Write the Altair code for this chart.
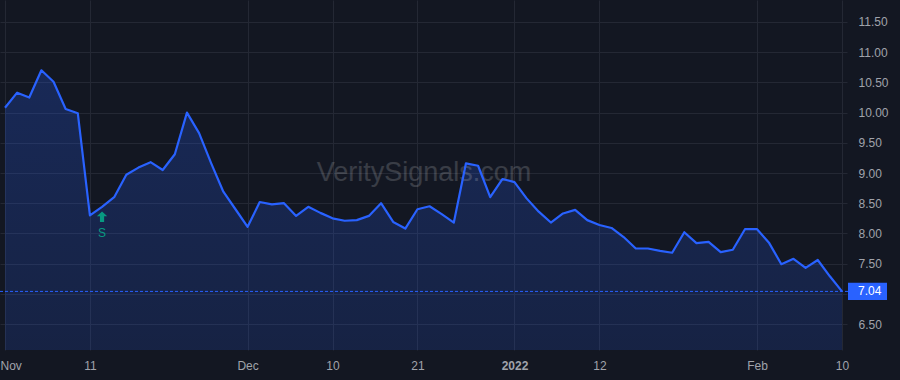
import altair as alt
import pandas as pd

# ---- data ----
prices = [10.08, 10.33, 10.25, 10.70, 10.51, 10.06, 9.99, 8.30, 8.44, 8.60,
          8.97, 9.09, 9.18, 9.05, 9.31, 10.00, 9.66, 9.16, 8.69, 8.40,
          8.11, 8.52, 8.48, 8.50, 8.29, 8.44, 8.34, 8.25, 8.21, 8.22,
          8.29, 8.50, 8.19, 8.08, 8.40, 8.45, 8.32, 8.18, 9.16, 9.12,
          8.60, 8.90, 8.85, 8.58, 8.36, 8.18, 8.33, 8.39, 8.22, 8.14,
          8.09, 7.94, 7.75, 7.75, 7.71, 7.68, 8.02, 7.84, 7.86, 7.69,
          7.73, 8.07, 8.07, 7.84, 7.49, 7.58, 7.43, 7.56, 7.29, 7.04]
bar_index = list(range(len(prices)))
tick_index = [0, 7, 20, 27, 34, 42, 49, 62, 69]
tick_labels = ["Nov", "11", "Dec", "10", "21", "2022", "12", "Feb", "10"]
bold_tick = 42
y_ticks = [6.5, 7.0, 7.5, 8.0, 8.5, 9.0, 9.5, 10.0, 10.5, 11.0, 11.5]
hidden_y_label = 7.0   # covered by the last-price tag
signal_index = [8]
signal_label = ["S"]
watermark = ["VeritySignals.com"]

df = pd.DataFrame({"i": bar_index, "price": prices})
sig = pd.DataFrame({"i": signal_index,
                    "price": [prices[k] for k in signal_index],
                    "label": signal_label})
last = pd.DataFrame({"i": [bar_index[-1]], "price": [prices[-1]],
                     "label": [f"{prices[-1]:.2f}"]})
wm = pd.DataFrame({"t": watermark})

BG = "#131722"
GRID = "#242834"
LABEL = "#a0a3ab"
BLUE = "#2962FF"
GREEN = "#089981"
FONT = "Liberation Sans"

x_scale = alt.Scale(domain=[-0.412, 69.412], nice=False, zero=False)
y_scale = alt.Scale(domain=[6.07, 11.864], nice=False, zero=False)

label_expr = ""
for k, t in zip(tick_index, tick_labels):
    label_expr += f"datum.value == {k} ? '{t}' : "
label_expr += "''"

x_axis = alt.Axis(values=tick_index, labelExpr=label_expr, grid=True,
                  gridColor=GRID, gridWidth=1, ticks=False, domain=False,
                  labelColor=LABEL, labelFont=FONT, labelFontSize=12,
                  labelPadding=10, labelOverlap=False, title=None,
                  labelAlign=alt.condition("datum.value == 0", alt.value("left"), alt.value("center")),
                  labelOffset=alt.condition("datum.value == 0", alt.value(-5), alt.value(0)),
                  labelFontWeight=alt.condition(f"datum.value == {bold_tick}", alt.value("bold"), alt.value("normal")))
y_axis = alt.Axis(orient="right", values=y_ticks, grid=True,
                  labelExpr=f"datum.value == {hidden_y_label} ? '' : format(datum.value, '.2f')",
                  gridColor=GRID, gridWidth=1, ticks=False, domain=False,
                  labelColor=LABEL, labelFont=FONT, labelFontSize=12,
                  labelPadding=11, title=None, labelAlign="left")

X = alt.X("i:Q", scale=x_scale, axis=x_axis)
Y = alt.Y("price:Q", scale=y_scale, axis=y_axis)

grad = alt.Gradient(gradient="linear",
                    stops=[alt.GradientStop(color="rgba(41,98,255,0.24)", offset=0),
                           alt.GradientStop(color="rgba(41,98,255,0.04)", offset=1)],
                    x1=1, x2=1, y1=0, y2=1)

area = alt.Chart(df).mark_area(color=grad, clip=True).encode(x=X, y=Y)

mark = alt.Chart(wm).mark_text(fontSize=27, font=FONT, color="#ffffff", opacity=0.16,
                                align="center", baseline="alphabetic").encode(
    x=alt.value(424), y=alt.value(181), text="t:N")

line = alt.Chart(df).mark_line(color=BLUE, strokeWidth=2.2, strokeJoin="round").encode(x=X, y=Y)

rule = alt.Chart(last).mark_rule(color=BLUE, strokeDash=[3, 2], strokeWidth=1).encode(
    y=Y, x=alt.value(0), x2=alt.value(848))

box = alt.Chart(last).mark_point(shape="M-1,-0.44 L1,-0.44 L1,0.44 L-1,0.44 Z", size=1521,
                                 filled=True, color=BLUE, opacity=1).encode(
    y=Y, x=alt.value(867.5))

box_text = alt.Chart(last).mark_text(align="left", baseline="middle", color="#ffffff",
                                     fontSize=12, font=FONT).encode(
    y=Y, x=alt.value(858), text="label:N")

arrow = alt.Chart(sig).mark_point(
    shape="M0,-1 L1,-0.1 L0.4,-0.1 L0.4,1 L-0.4,1 L-0.4,-0.1 L-1,-0.1 Z",
    size=110, filled=True, color=GREEN, opacity=1, yOffset=10).encode(x=X, y=Y)

sig_text = alt.Chart(sig).mark_text(color=GREEN, fontSize=12, font=FONT, dy=26,
                                    baseline="middle").encode(
    x=X, y=Y, text="label:N")

chart = alt.layer(area, mark, line, rule, box, box_text, arrow, sig_text).properties(
    width=847, height=350,
    autosize=alt.AutoSizeParams(type="none"),
    padding={"left": 0, "top": 0, "right": 53, "bottom": 30},
    background=BG,
).configure_view(stroke=None)

chart.save("out.html", embed_options={"renderer": "svg", "actions": False})
